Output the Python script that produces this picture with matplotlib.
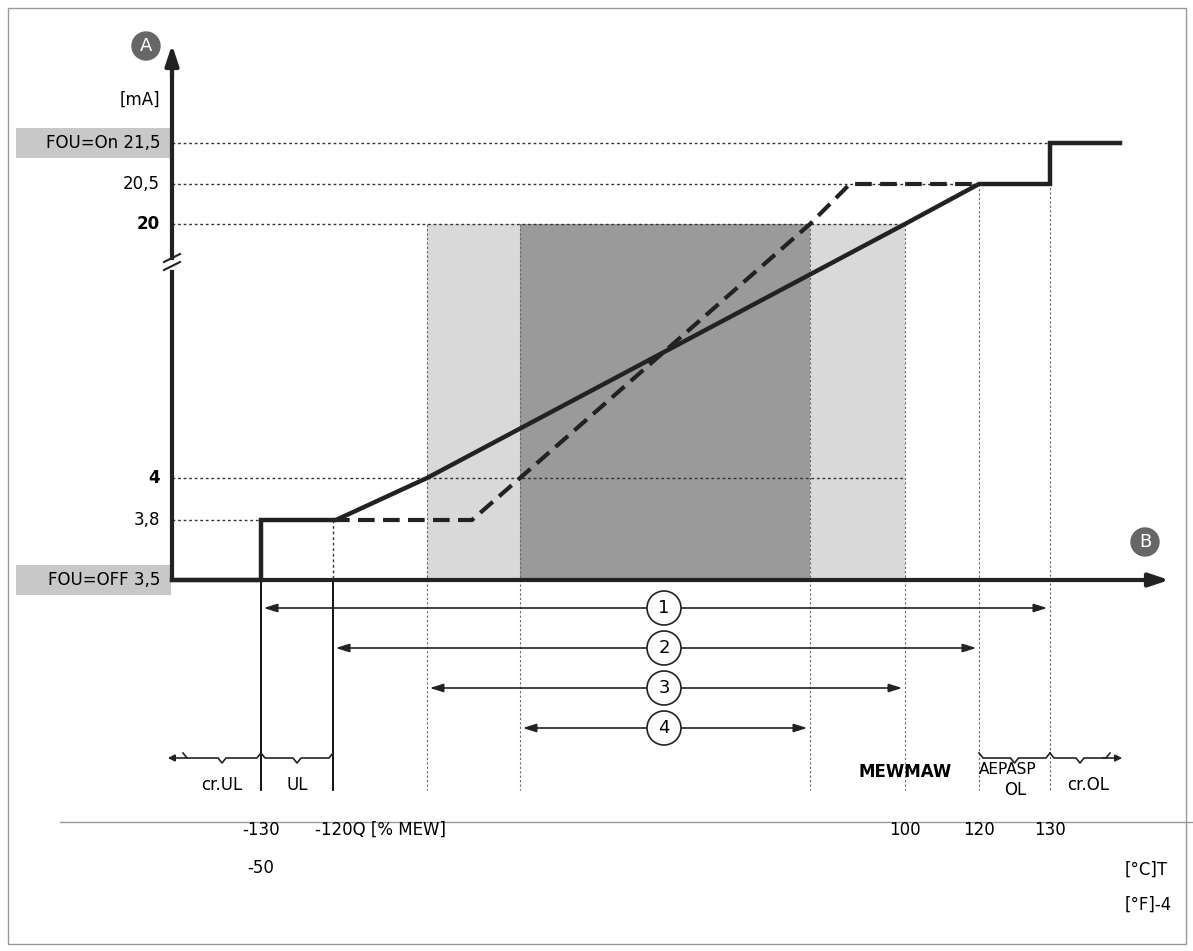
import numpy as np
import matplotlib.pyplot as plt
from matplotlib.patches import Rectangle

# current levels [mA] and their schematic positions
levels_ma = [3.5, 3.8, 4, 20, 20.5, 21.5]
level_labels = ["FOU=OFF 3,5", "3,8", "4", "20", "20,5", "FOU=On 21,5"]
level_y = [580, 520, 478, 224, 184, 143]

# measured value markers [% MEW] and schematic x positions
marks_pct = [-160, -130, -120, 0, 25, 75, 100, 120, 130, 140]
mark_x = [172, 261, 333, 427, 520, 810, 905, 979, 1050, 1120]

def X(p):
    return np.interp(p, marks_pct, mark_x)

def Y(m):
    return np.interp(m, levels_ma, level_y)

# characteristic curves (pct, mA)
solid_pct = [-160, -130, -130, -116.3, 0, 100, 120, 130, 130, 140]
solid_ma = [3.5, 3.5, 3.8, 3.8, 4, 20, 20.5, 20.5, 21.5, 21.5]
dash_pct = [-120, 12.1, 25, 75, 85.5, 120]
dash_ma = [3.8, 3.8, 4, 20, 20.5, 20.5]

ranges = [(-130, 130, "1"), (-120, 120, "2"), (0, 100, "3"), (25, 75, "4")]
range_y = [608, 648, 688, 728]

fig = plt.figure(figsize=(11.93, 9.51), dpi=100)
ax = fig.add_axes([0, 0, 1, 1])
ax.set_xlim(0, 1193)
ax.set_ylim(951, 0)
ax.axis("off")
fs = 12

ax.add_patch(Rectangle((8, 8), 1178, 936, fill=False, ec="#999999", lw=1))

# gray areas
ax.add_patch(Rectangle((X(0), Y(20)), X(100) - X(0), Y(3.5) - Y(20), color="#d9d9d9", lw=0))
ax.add_patch(Rectangle((X(25), Y(20)), X(75) - X(25), Y(3.5) - Y(20), color="#9a9a9a", lw=0))

# horizontal dotted guides
guide_end = {21.5: X(140), 20.5: X(120), 20: X(100), 4: X(100), 3.8: X(-120)}
for m, xe in guide_end.items():
    ax.plot([172, xe], [Y(m), Y(m)], ls=(0, (2, 2)), color="#333", lw=1)

# vertical guides
tops = {0: 20, 25: 20, 75: 20, 100: 20, 120: 20.5, 130: 21.5}
for p, m in tops.items():
    ax.plot([X(p)] * 2, [Y(m), 790], ls=(0, (2, 2)), color="#666", lw=0.8)
for p in [-130, -120]:
    ax.plot([X(p)] * 2, [580, 790], color="black", lw=1.3)
ax.plot([X(-120)] * 2, [Y(3.8), 580], ls=(0, (2, 2)), color="#333", lw=1)

# curves
ax.plot(X(solid_pct), Y(solid_ma), color="#222", lw=3.2, solid_joinstyle="miter")
ax.plot(X(dash_pct), Y(dash_ma), color="#222", lw=3, ls=(0, (4, 2)))

# axes
ax.annotate("", xy=(1172, 580), xytext=(172, 580),
            arrowprops=dict(arrowstyle="-|>,head_length=1.2,head_width=0.4", color="#222", lw=3))
ax.plot([172, 172], [580, 272], color="#222", lw=3)
ax.plot([172, 172], [258, 60], color="#222", lw=3)
ax.annotate("", xy=(172, 42), xytext=(172, 80),
            arrowprops=dict(arrowstyle="-|>,head_length=1.2,head_width=0.4", color="#222", lw=3))
ax.plot([164, 180], [270, 262], color="#222", lw=1.5)
ax.plot([164, 180], [262, 254], color="#222", lw=1.5)

for lbl, (cx, cy) in [("A", (146, 46)), ("B", (1145, 542))]:
    ax.add_patch(plt.Circle((cx, cy), 14, color="#666"))
    ax.text(cx, cy, lbl, color="white", ha="center", va="center", fontsize=13)
ax.text(140, 100, "[mA]", ha="center", va="center", fontsize=fs)

for m, lbl in zip(levels_ma, level_labels):
    bold = m in (4, 20)
    if lbl.startswith("FOU"):
        ax.add_patch(Rectangle((16, Y(m) - 15), 155, 30, color="#c8c8c8", lw=0))
    ax.text(160, Y(m), lbl, ha="right", va="center", fontsize=fs,
            fontweight="bold" if bold else "normal")

# range arrows
for (a, b, n), yy in zip(ranges, range_y):
    ax.annotate("", xy=(X(a), yy), xytext=(X(b), yy),
                arrowprops=dict(arrowstyle="<|-|>,head_length=0.8,head_width=0.25", color="#222", lw=1.2))
    ax.add_patch(plt.Circle((664, yy), 17, fc="white", ec="#222", lw=1.2, zorder=3))
    ax.text(664, yy, n, ha="center", va="center", fontsize=13, zorder=4)

# braces
def brace(x0, x1, y=758):
    xm = (x0 + x1) / 2
    ax.plot([x0, x0 + 4, xm - 4, xm, xm + 4, x1 - 4, x1],
            [y - 5, y, y, y + 5, y, y, y - 5], color="#222", lw=1.2)

brace(183, 261)
brace(261, 333)
brace(979, 1050)
brace(1050, 1110)
ax.annotate("", xy=(165, 758), xytext=(190, 758),
            arrowprops=dict(arrowstyle="-|>", color="#222", lw=1.2))
ax.annotate("", xy=(1125, 758), xytext=(1100, 758),
            arrowprops=dict(arrowstyle="-|>", color="#222", lw=1.2))

ax.text(222, 785, "cr.UL", ha="center", va="center", fontsize=fs)
ax.text(297, 785, "UL", ha="center", va="center", fontsize=fs)
ax.text(1015, 790, "OL", ha="center", va="center", fontsize=fs)
ax.text(1088, 785, "cr.OL", ha="center", va="center", fontsize=fs)
ax.text(905, 772, "MEWMAW", ha="center", va="center", fontsize=fs, fontweight="bold")
ax.text(1008, 770, "AEPASP", ha="center", va="center", fontsize=fs - 1)

for p, lbl in [(-130, "-130"), (-120, "-120Q [% MEW]"), (100, "100"), (120, "120"), (130, "130")]:
    ha = "left" if p == -120 else "center"
    xx = X(p) - 18 if p == -120 else X(p)
    ax.text(xx, 830, lbl, ha=ha, va="center", fontsize=fs)

ax.plot([60, 1193], [822, 822], color="#999", lw=1)
ax.text(261, 868, "-50", ha="center", va="center", fontsize=fs)
ax.text(1125, 870, "[°C]T", ha="left", va="center", fontsize=fs)
ax.text(1125, 905, "[°F]-4", ha="left", va="center", fontsize=fs)

fig.savefig("out.png", dpi=100)
